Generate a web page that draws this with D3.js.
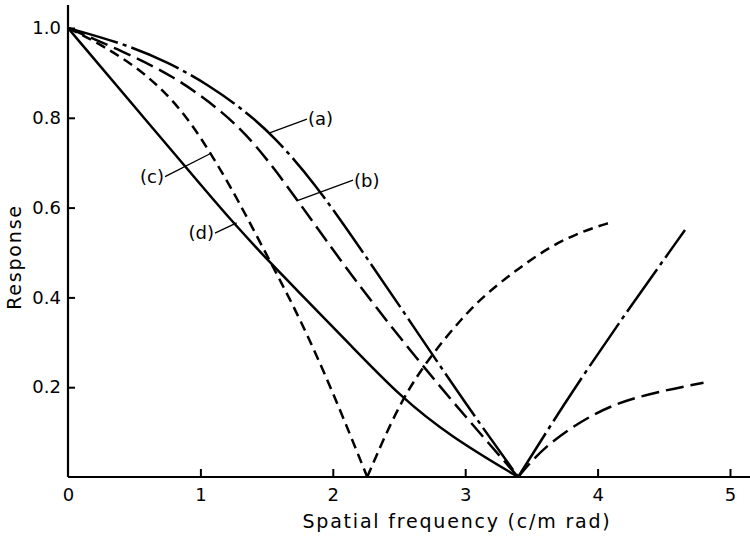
<!DOCTYPE html>
<html>
<head>
<meta charset="utf-8">
<script src="https://cdn.jsdelivr.net/npm/d3@7"></script>
<style>
  body { margin: 0; background: #fff; }
  svg { display: block; font-family: "DejaVu Sans", sans-serif; }
</style>
</head>
<body>
<div id="chart"></div>
<script>
// Tick values
const xTicks = [0, 1, 2, 3, 4, 5];
const yTicks = [0.2, 0.4, 0.6, 0.8, 1.0];

// Curves, [frequency, response]
const curveA = [[0, 1], [0.42, 0.965], [0.75, 0.925], [1.07, 0.872], [1.35, 0.812], [1.55, 0.76],
    [1.85, 0.66], [2.2, 0.513], [2.61, 0.335], [3.01, 0.16], [3.40, 0],
    [3.74, 0.16], [4.14, 0.335], [4.66, 0.55]];
const curveB = [[0, 1], [0.44, 0.945], [0.8, 0.892], [1.12, 0.825], [1.40, 0.75], [1.75, 0.61],
    [2.13, 0.452], [2.6, 0.275], [3.0, 0.135], [3.40, 0],
    [3.59, 0.067], [3.94, 0.138], [4.27, 0.179], [4.8, 0.21]];
const curveC = [[0, 1], [0.19, 0.973], [0.52, 0.914], [0.77, 0.847], [0.95, 0.78], [1.1, 0.71],
    [1.27, 0.625], [1.53, 0.478], [1.75, 0.355], [2.0, 0.19], [2.26, 0],
    [2.51, 0.171], [2.76, 0.278], [2.98, 0.355], [3.16, 0.41], [3.56, 0.50], [3.84, 0.543], [4.11, 0.568]];
const curveD = [[0, 1], [0.53, 0.815], [1.1, 0.617], [1.25, 0.566], [1.53, 0.476], [1.75, 0.41],
    [2.13, 0.295], [2.51, 0.179], [2.89, 0.09], [3.40, 0]];

// Curve labels: leader runs from a point on the curve to the text
const labelNames = ["(a)", "(b)", "(c)", "(d)"];
const leaderFrom = [[1.518, 0.766], [1.727, 0.615], [1.073, 0.72], [1.274, 0.566]];
const leaderTo = [[1.805, 0.797], [2.153, 0.661], [0.733, 0.669], [1.11, 0.543]];

const width = 750, height = 537;
const svg = d3.select("#chart").append("svg")
    .attr("width", width)
    .attr("height", height);

const x = d3.scaleLinear().domain([0, 5]).range([68, 730]);
const y = d3.scaleLinear().domain([0, 1]).range([477, 28]);

// Axes (ticks point inward)
const xAxis = svg.append("g")
    .attr("transform", `translate(0,${y(0)})`)
    .call(d3.axisBottom(x).tickValues(xTicks).tickFormat(d3.format("d"))
        .tickSizeInner(-8).tickSizeOuter(0).tickPadding(11));
xAxis.select(".domain").remove();
xAxis.selectAll(".tick").filter(d => d === 0).select("line").remove();

const yAxis = svg.append("g")
    .attr("transform", `translate(${x(0)},0)`)
    .call(d3.axisLeft(y).tickValues(yTicks).tickFormat(d3.format(".1f"))
        .tickSizeInner(-7).tickSizeOuter(0).tickPadding(7));
yAxis.select(".domain").remove();

svg.selectAll(".tick line").attr("stroke", "#000").attr("stroke-width", 2);
svg.selectAll(".tick text").attr("fill", "#000").style("font-size", "18px")
    .style("font-family", "'DejaVu Sans', sans-serif");

// Axis lines
svg.append("line")
    .attr("x1", x(0)).attr("x2", width)
    .attr("y1", y(0)).attr("y2", y(0))
    .attr("stroke", "#000").attr("stroke-width", 2.2);
svg.append("line")
    .attr("x1", x(0)).attr("x2", x(0))
    .attr("y1", y(0)).attr("y2", 5)
    .attr("stroke", "#000").attr("stroke-width", 2.2);

// Axis titles
svg.append("text")
    .attr("x", (x(0) + width) / 2 + 48)
    .attr("y", 528)
    .attr("text-anchor", "middle")
    .style("font-size", "19px")
    .style("letter-spacing", "1.8px")
    .text("Spatial frequency (c/m rad)");

svg.append("text")
    .attr("transform", "translate(21,257) rotate(-90)")
    .attr("text-anchor", "middle")
    .style("font-size", "19px")
    .style("letter-spacing", "1.8px")
    .text("Response");

// Split a series into branches at its interior zeros so the cusps stay sharp
function branches(points) {
    const out = [];
    let cur = [];
    points.forEach((p, i) => {
        cur.push(p);
        if (p[1] === 0 && i > 0 && i < points.length - 1) {
            out.push(cur);
            cur = [p];
        }
    });
    out.push(cur);
    return out;
}

const line = d3.line()
    .x(d => x(d[0]))
    .y(d => y(d[1]))
    .curve(d3.curveBasis);

const series = [
    { data: curveA, dash: "52,5,4,5" },
    { data: curveB, dash: "18,7" },
    { data: curveC, dash: "10,6" },
    { data: curveD, dash: null }
];

series.forEach(s => {
    svg.append("g")
        .selectAll("path")
        .data(branches(s.data))
        .enter()
        .append("path")
        .attr("d", line)
        .attr("fill", "none")
        .attr("stroke", "#000")
        .attr("stroke-width", 2.5)
        .attr("stroke-dasharray", s.dash);
});

// Curve labels and leaders
labelNames.forEach((name, i) => {
    const from = leaderFrom[i], to = leaderTo[i];
    const right = to[0] > from[0];
    svg.append("line")
        .attr("x1", x(from[0])).attr("y1", y(from[1]))
        .attr("x2", x(to[0])).attr("y2", y(to[1]))
        .attr("stroke", "#000").attr("stroke-width", 1.3);
    svg.append("text")
        .attr("x", x(to[0]) + (right ? 1 : -1))
        .attr("y", y(to[1]))
        .attr("dy", "0.35em")
        .attr("text-anchor", right ? "start" : "end")
        .style("font-size", "18px")
        .text(name);
});
</script>
</body>
</html>
